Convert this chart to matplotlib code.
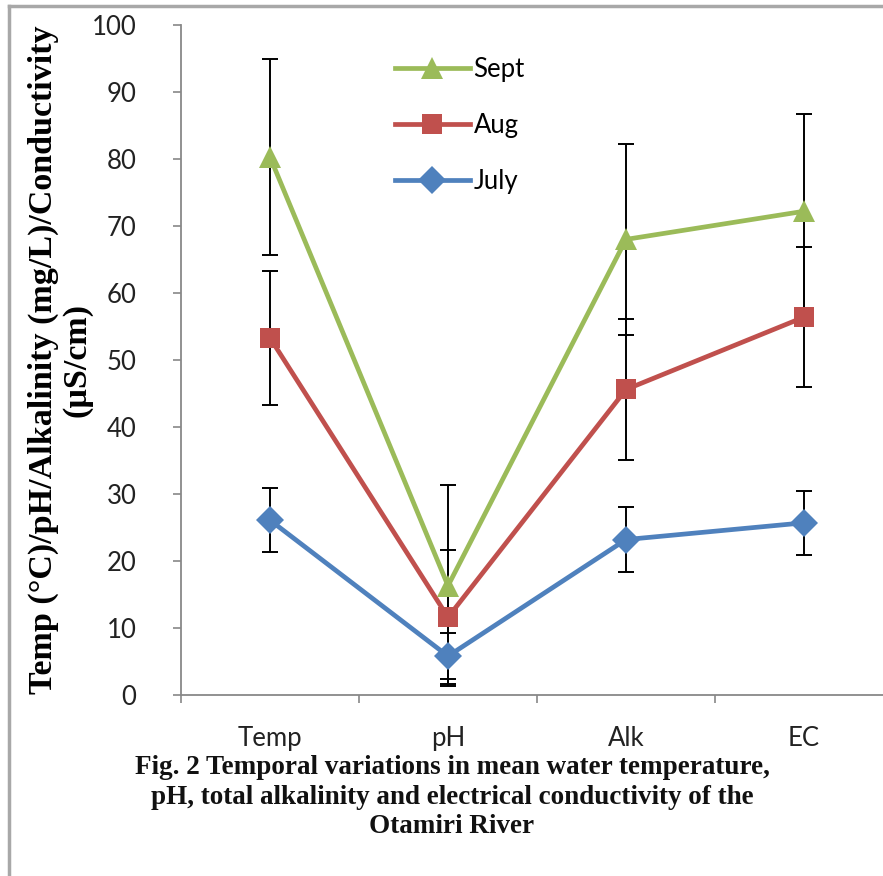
import matplotlib
matplotlib.use('Agg')
import matplotlib.pyplot as plt
from matplotlib.lines import Line2D
import numpy as np

# data
categories = ['Temp', 'pH', 'Alk', 'EC']
july = [26.1, 5.8, 23.2, 25.7]
july_err = [4.8, 3.4, 4.8, 4.8]
aug = [53.3, 11.6, 45.6, 56.4]
aug_err = [10.0, 10.0, 10.5, 10.4]
sept = [80.3, 16.3, 68.0, 72.2]
sept_err = [14.6, 15.0, 14.2, 14.5]

series = [
    ('July', july, july_err, '#4F81BD', 'D', 14.5),
    ('Aug', aug, aug_err, '#C0504D', 's', 15),
    ('Sept', sept, sept_err, '#9BBB59', '^', 16),
]

W, H = 883, 876
fig = plt.figure(figsize=(W / 100, H / 100), dpi=100)
ax = fig.add_axes([181 / W, 1 - 695 / H, (893 - 181) / W, (695 - 25) / H])

x = np.arange(len(categories))
handles = {}
for name, vals, errs, color, marker, ms in series:
    ax.errorbar(x, vals, yerr=errs, fmt='none', ecolor='black',
                elinewidth=1.4, capsize=6, capthick=1.4, zorder=2)
    line, = ax.plot(x, vals, color=color, lw=3.4, marker=marker,
                    markersize=ms, markeredgewidth=0, zorder=3, label=name)
    handles[name] = line

ax.set_xlim(-0.5, len(categories) - 0.5)
ax.set_ylim(0, 100)
ax.set_yticks(np.arange(0, 101, 10))
ax.set_xticks(x)
ax.set_xticklabels(categories)
ax.set_xticks(np.arange(-0.5, len(categories), 1), minor=True)

for side in ['top', 'right']:
    ax.spines[side].set_visible(False)
for side in ['left', 'bottom']:
    ax.spines[side].set_color('#888888')
    ax.spines[side].set_linewidth(1.3)

ax.tick_params(axis='y', direction='out', length=6, width=1.2, color='#888888',
               labelsize=18.5, labelcolor='#222222', pad=26)
ax.tick_params(axis='x', which='major', length=0, labelsize=18.5,
               labelcolor='#222222', pad=22)
ax.tick_params(axis='x', which='minor', direction='out', length=6, width=1.2,
               color='#888888')
for lab in ax.get_xticklabels() + ax.get_yticklabels():
    lab.set_family('Lato')

ax.set_ylabel('Temp (\u00b0C)/pH/Alkalinity (mg/L)/Conductivity\n(\u00b5S/cm)',
              family='Liberation Serif', fontweight='bold', fontsize=24.5,
              linespacing=1.1)
ax.yaxis.set_label_coords((93 - 181) / 712, 0.5)

leg = ax.legend([handles['Sept'], handles['Aug'], handles['July']],
                ['Sept', 'Aug', 'July'], loc='upper left',
                bbox_to_anchor=(372 / W, 1 - 34 / H), bbox_transform=fig.transFigure,
                frameon=False, prop={'family': 'Lato', 'size': 18.5},
                labelspacing=1.2, handlelength=2.9, handletextpad=0.15,
                markerscale=0.95)

caption = ('Fig. 2 Temporal variations in mean water temperature,\n'
           'pH, total alkalinity and electrical conductivity of the\n'
           'Otamiri River')
fig.text(452 / W, 1 - 755 / H, caption, ha='center', va='top',
         family='Liberation Serif', fontweight='bold', fontsize=19.5,
         linespacing=1.24, color='#111111')

# page border (top and left edges visible)
fig.add_artist(Line2D([9 / W, 1], [1 - 6 / H, 1 - 6 / H], transform=fig.transFigure,
                      color='#A8A8A8', lw=2.5))
fig.add_artist(Line2D([9 / W, 9 / W], [0, 1 - 6 / H], transform=fig.transFigure,
                      color='#A8A8A8', lw=2.5))

fig.savefig('out.png', dpi=100)
